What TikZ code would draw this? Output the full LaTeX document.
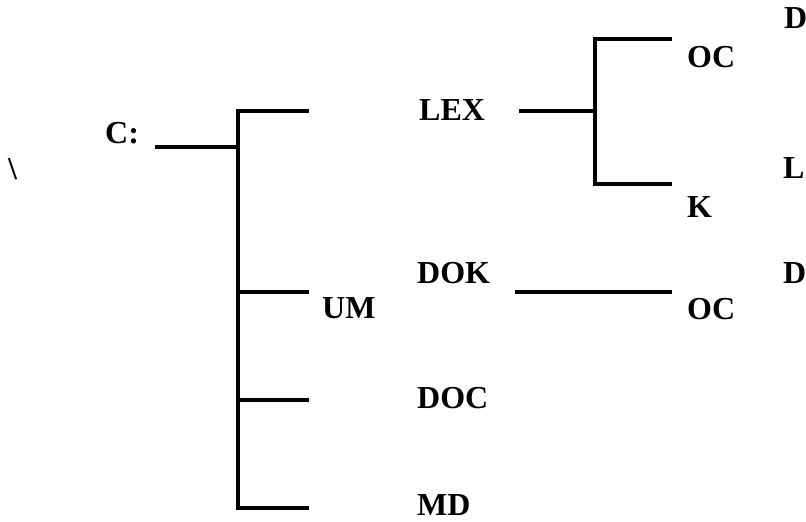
\documentclass[tikz,border=0pt]{standalone}
\usepackage{fontspec}
\setmainfont{Liberation Serif}
\usepackage{tikz}
\usetikzlibrary{positioning}

\tikzset{
  lbl/.style={anchor=base west,inner sep=0pt,font=\bfseries\fontsize{32}{38}\selectfont},
  branch/.style={line width=4.3pt,line join=miter}
}

\begin{document}
\begin{tikzpicture}[x=1pt,y=-1pt]
\useasboundingbox (0,0) rectangle (806,522);
% labels
\node[lbl] (bs) at (8,179) {\textbackslash};
\node[lbl] (c) at (105,143) {C:};
\node[lbl] (lex) at (419,120) {LEX};
\node[lbl] (dok) at (417,283) {DOK};
\node[lbl] (um) at (322,318) {UM};
\node[lbl] (doc) at (417,408) {DOC};
\node[lbl] (md) at (417,515) {MD};
\node[lbl] (oca) at (687,67) {OC};
\node[lbl] (k) at (687,217) {K};
\node[lbl] (ocb) at (687,319) {OC};
\node[lbl] (da) at (784,28) {D};
\node[lbl] (l) at (783,178) {L};
\node[lbl] (db) at (783,283) {D};
% junctions
\coordinate (c0) at (155,147);
\coordinate (t0) at (238,111);
\coordinate (t1) at (238,147);
\coordinate (t2) at (238,292);
\coordinate (t3) at (238,400);
\coordinate (t4) at (238,508);
\coordinate (l0) at (519,111);
\coordinate (l1) at (595,39);
\coordinate (l2) at (595,111);
\coordinate (l3) at (595,184);
\coordinate (d0) at (515,292);
\coordinate (d1) at (672,292);
% tree lines
\draw[branch] (c0) -- (t1);
\draw[branch] (t0 -| 309,0) -- (t0) -- (t4) -- (t4 -| 309,0);
\draw[branch] (t2) -- (t2 -| 309,0);
\draw[branch] (t3) -- (t3 -| 309,0);
\draw[branch] (l0) -- (l2);
\draw[branch] (l1 -| 672,0) -- (l1) -- (l3) -- (l3 -| 672,0);
\draw[branch] (d0) -- (d1);
\end{tikzpicture}
\end{document}
